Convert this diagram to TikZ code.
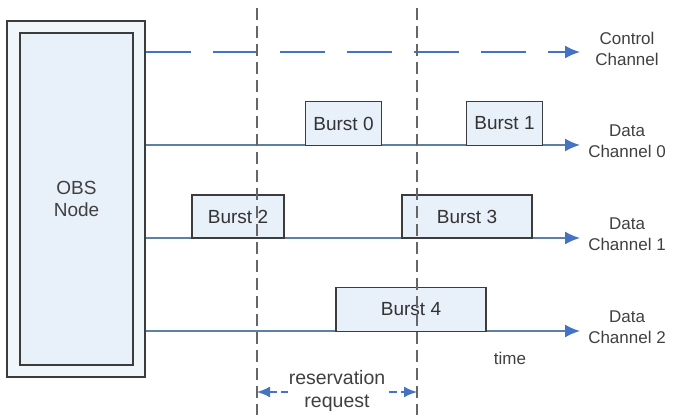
\documentclass[tikz,border=0pt]{standalone}
\usepackage{fontspec}
\setmainfont{Liberation Sans}
\usetikzlibrary{arrows.meta}
\definecolor{mblue}{RGB}{68,114,196}
\definecolor{lineblue}{RGB}{92,128,166}
\definecolor{boxfill}{RGB}{232,240,249}
\definecolor{edgegray}{RGB}{60,60,60}
\tikzset{burst/.style = {draw=edgegray, fill=boxfill, line width=1.4pt,
                         inner sep=0, text=black!80, font=\fontsize{19}{22}\selectfont}}
\tikzset{chan/.style = {draw=lineblue, line width=1.8pt,
                        -{Latex[length=15pt,width=13pt,color=mblue]}}}
\tikzset{chanlabel/.style = {align=center, text=black!75,
                             font=\fontsize{17}{21}\selectfont}}
\tikzset{vline/.style = {draw=black!60, line width=1.8pt,
                         dash pattern=on 12pt off 6pt}}

\begin{document}
\begin{tikzpicture}[x=1pt, y=-1pt]
        \useasboundingbox (0,0) rectangle (680,415);
        % OBS node
        \node[draw=edgegray, fill=boxfill!60, line width=1.4pt, inner sep=0,
              minimum width=138, minimum height=356] (obs) at (76,199) {};
        \node[draw=edgegray, fill=boxfill, line width=1.6pt, inner sep=0,
              minimum width=113, minimum height=332, align=center,
              font=\fontsize{19}{22}\selectfont, text=black!75] (obsin) at (76.5,199) {OBS\\Node};
        % channel ends
        \coordinate (cend) at (580,52);
        \coordinate (d0end) at (580,145);
        \coordinate (d1end) at (580,238);
        \coordinate (d2end) at (580,331);
        \draw[chan, draw=mblue, dash pattern=on 45pt off 22pt] (obs.east |- cend) -- (cend);
        \draw[chan] (obs.east |- d0end) -- (d0end);
        \draw[chan] (obs.east |- d1end) -- (d1end);
        \draw[chan] (obs.east |- d2end) -- (d2end);
        % bursts
        \node[burst, minimum width=76, minimum height=44] (b0) at (343.5,123.5) {Burst 0};
        \node[burst, minimum width=76, minimum height=44] (b1) at (504.5,123.5) {Burst 1};
        \node[burst, minimum width=92, minimum height=43] (b2) at (238,216.5) {Burst 2};
        \node[burst, minimum width=130, minimum height=43] (b3) at (467,216.5) {Burst 3};
        \node[burst, minimum width=150, minimum height=44] (b4) at (411,309.5) {Burst 4};
        % time marks
        \coordinate (lt) at (257,8);
        \coordinate (lb) at (257,415);
        \coordinate (rt) at (417,8);
        \coordinate (rb) at (417,415);
        \draw[vline] (lt) -- (lb);
        \draw[vline] (rt) -- (rb);
        \draw[draw=mblue, line width=1.8pt, dash pattern=on 8pt off 4pt,
              {Latex[length=13pt,width=11pt]}-{Latex[length=13pt,width=11pt]}]
          (lt |- 0,392) -- (rt |- 0,392);
        \node[fill=white, inner sep=1pt, align=center, text=black!75,
              font=\fontsize{19.5}{23}\selectfont] (resv) at (337,391) {reservation\\request};
        % labels
        \node[chanlabel] (lc) at (627,49) {Control\\Channel};
        \node[chanlabel] (l0) at (627,141) {Data\\Channel 0};
        \node[chanlabel] (l1) at (627,234) {Data\\Channel 1};
        \node[chanlabel] (l2) at (627,327) {Data\\Channel 2};
        \node[chanlabel] (tm) at (510,358) {time};
    \end{tikzpicture}
\end{document}
